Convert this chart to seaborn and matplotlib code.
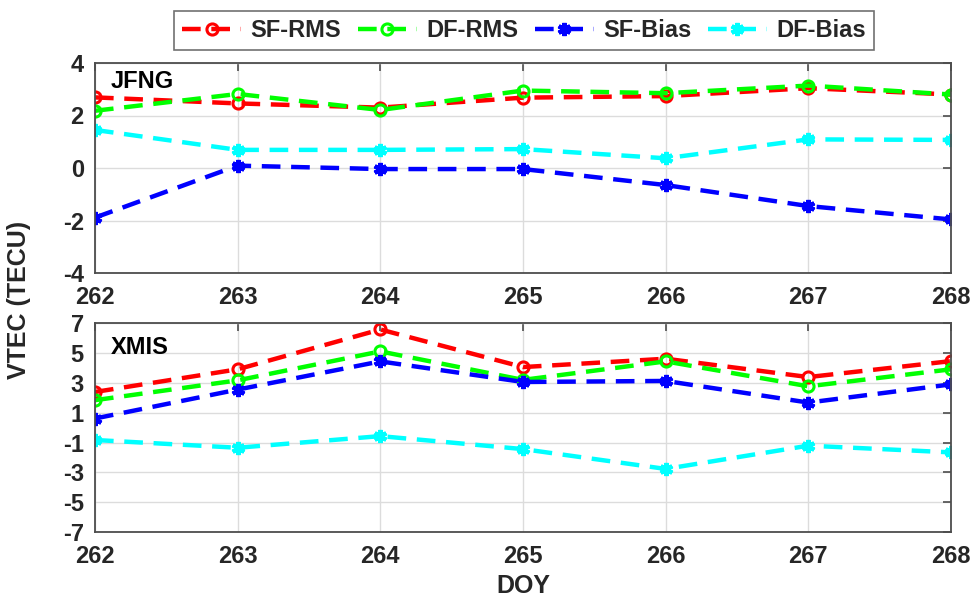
import matplotlib
matplotlib.use("Agg")
import matplotlib.pyplot as plt
import seaborn as sns
import pandas as pd

doy = [262, 263, 264, 265, 266, 267, 268]

# JFNG station
jfng_sf_rms = [2.69, 2.46, 2.30, 2.68, 2.74, 3.04, 2.80]
jfng_df_rms = [2.18, 2.82, 2.21, 2.95, 2.85, 3.14, 2.80]
jfng_sf_bias = [-1.89, 0.09, -0.04, -0.04, -0.65, -1.45, -1.96]
jfng_df_bias = [1.45, 0.69, 0.69, 0.72, 0.37, 1.09, 1.07]

# XMIS station
xmis_sf_rms = [2.39, 3.91, 6.58, 4.06, 4.62, 3.39, 4.46]
xmis_df_rms = [1.84, 3.17, 5.11, 3.20, 4.44, 2.77, 3.91]
xmis_sf_bias = [0.61, 2.55, 4.44, 3.06, 3.13, 1.68, 2.90]
xmis_df_bias = [-0.83, -1.35, -0.57, -1.44, -2.77, -1.21, -1.66]

series_names = ["SF-RMS", "DF-RMS", "SF-Bias", "DF-Bias"]
series_colors = ["#ff0000", "#00ff00", "#0000ff", "#00ffff"]

sns.set_theme(style="white")
plt.rcParams["font.family"] = ["Liberation Sans", "DejaVu Sans"]
plt.rcParams["font.weight"] = "bold"
plt.rcParams["axes.unicode_minus"] = False

TEXT = "#262626"
FRAME = "#4d4d4d"

fig = plt.figure(figsize=(9.73, 6.0), dpi=100)
ax_top = fig.add_axes([0.0976, 0.545, 0.8798, 0.350])
ax_bot = fig.add_axes([0.0976, 0.1133, 0.8798, 0.348])

asterisk = (6, 2, 0)


def draw_station(ax, values, ylim, yticks, label, label_y):
    for name, color, vals in zip(series_names, series_colors, values):
        df = pd.DataFrame({"DOY": doy, "VTEC": vals})
        if "RMS" in name:
            mk = dict(marker="o", markersize=8, markerfacecolor="none",
                      markeredgecolor=color, markeredgewidth=2.2)
        else:
            mk = dict(marker=asterisk, markersize=9.5, markerfacecolor=color,
                      markeredgecolor=color, markeredgewidth=3.0)
        sns.lineplot(data=df, x="DOY", y="VTEC", ax=ax, color=color,
                     linestyle=(0, (4.2, 2.4)), linewidth=3.2, label=name,
                     legend=False, **mk)
    ax.set_xlim(262, 268)
    ax.set_ylim(*ylim)
    ax.set_xticks(doy)
    ax.set_yticks(yticks)
    ax.grid(True, color="#dcdcdc", linewidth=1.0)
    ax.tick_params(axis="both", which="both", direction="in", length=6,
                   width=1.2, top=True, right=True, labelsize=17,
                   color=FRAME, labelcolor=TEXT)
    ax.tick_params(axis="y", pad=8)
    ax.tick_params(axis="x", pad=9)
    for lbl in ax.get_xticklabels() + ax.get_yticklabels():
        lbl.set_fontweight("bold")
    for sp in ax.spines.values():
        sp.set_visible(True)
        sp.set_color(FRAME)
        sp.set_linewidth(1.3)
    ax.set_xlabel("")
    ax.set_ylabel("")
    ax.text(0.018, label_y, label, transform=ax.transAxes, ha="left",
            va="top", fontsize=17, fontweight="bold", color="black")


draw_station(ax_top, [jfng_sf_rms, jfng_df_rms, jfng_sf_bias, jfng_df_bias],
             (-4, 4), [-4, -2, 0, 2, 4], "JFNG", 0.965)
draw_station(ax_bot, [xmis_sf_rms, xmis_df_rms, xmis_sf_bias, xmis_df_bias],
             (-7, 7), [-7, -5, -3, -1, 1, 3, 5, 7], "XMIS", 0.94)

ax_bot.set_xlabel("DOY", fontsize=18, fontweight="bold", labelpad=5,
                  color=TEXT)
fig.text(0.02, 0.50, "VTEC (TECU)", rotation=90, ha="center", va="center",
         fontsize=18, fontweight="bold", color=TEXT)

handles, labels = ax_top.get_legend_handles_labels()
leg = fig.legend(handles, labels, loc="center", bbox_to_anchor=(0.5386, 0.949),
                 ncol=4, frameon=True, fancybox=False, edgecolor=FRAME,
                 prop={"weight": "bold", "size": 17},
                 handlelength=2.5, columnspacing=0.7, handletextpad=0.4,
                 borderpad=0.35, borderaxespad=0.0)
leg.get_frame().set_linewidth(1.2)

fig.savefig("out.png", dpi=100)
